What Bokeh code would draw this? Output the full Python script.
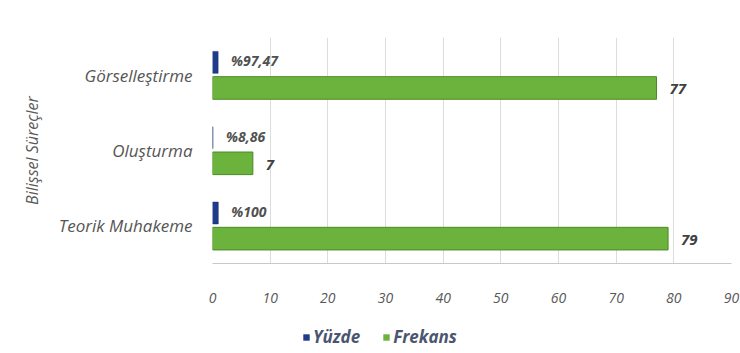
from bokeh.plotting import figure
from bokeh.models import ColumnDataSource, FactorRange, Range1d, Legend, LegendItem
from bokeh.layouts import column
from bokeh.transform import dodge
from bokeh.core.properties import value
from bokeh.embed import file_html
from bokeh.resources import INLINE

categories = ["Teorik Muhakeme", "Oluşturma", "Görselleştirme"]
yuzde = [1.0, 0.0886, 0.9747]
yuzde_labels = ["%100", "%8,86", "%97,47"]
frekans = [79, 7, 77]
frekans_labels = ["79", "7", "77"]
x_ticks = [0, 10, 20, 30, 40, 50, 60, 70, 80, 90]
series_names = ["Yüzde", "Frekans"]
series_colors = ["#1f3b8c", "#6cb33e"]
series_lines = ["#16296a", "#4a8a22"]

src = ColumnDataSource(dict(cat=categories, yuzde=yuzde, yl=yuzde_labels,
                            frekans=frekans, fl=frekans_labels))

FONT = "Open Sans"
p = figure(width=740, height=320, y_range=FactorRange(*categories),
           x_range=Range1d(0, 90), output_backend="svg", toolbar_location=None,
           min_border_left=212, min_border_right=9, min_border_top=37,
           min_border_bottom=57)
p.outline_line_color = None
p.background_fill_color = "white"

b1 = p.hbar(y=dodge("cat", 0.17, range=p.y_range), right="yuzde", left=0, height=0.29,
            source=src, fill_color=series_colors[0], line_color=series_lines[0], line_width=0.5)
b2 = p.hbar(y=dodge("cat", -0.17, range=p.y_range), right="frekans", left=0, height=0.30,
            source=src, fill_color=series_colors[1], line_color=series_lines[1], line_width=1)

p.text(x="yuzde", y=dodge("cat", 0.19, range=p.y_range), text="yl", source=src,
       x_offset=13, text_baseline="middle", text_align="left",
       text_font=value(FONT), text_font_style="bold italic", text_font_size="14px",
       text_color="#505050")
p.text(x="frekans", y=dodge("cat", -0.19, range=p.y_range), text="fl", source=src,
       x_offset=13, text_baseline="middle", text_align="left",
       text_font=value(FONT), text_font_style="bold italic", text_font_size="15px",
       text_color="#404040")

p.xaxis.ticker = x_ticks
p.xaxis.axis_line_color = "#c8c8c8"
p.xaxis.major_tick_line_color = None
p.xaxis.minor_tick_line_color = None
p.xaxis.major_label_standoff = 23
p.xaxis.major_label_text_font = FONT
p.xaxis.major_label_text_font_style = "italic"
p.xaxis.major_label_text_font_size = "14px"
p.xaxis.major_label_text_color = "#595959"

p.yaxis.axis_line_color = None
p.yaxis.major_tick_line_color = None
p.yaxis.minor_tick_line_color = None
p.yaxis.major_label_standoff = 14
p.yaxis.major_label_text_font = FONT
p.yaxis.major_label_text_font_style = "italic"
p.yaxis.major_label_text_font_size = "17px"
p.yaxis.major_label_text_color = "#555555"
p.yaxis.axis_label = "Bilişsel Süreçler"
p.yaxis.axis_label_text_font = FONT
p.yaxis.axis_label_text_font_style = "italic"
p.yaxis.axis_label_text_font_size = "16px"
p.yaxis.axis_label_text_color = "#595959"
p.yaxis.axis_label_standoff = 13

p.xgrid.grid_line_color = "#dcdcdc"
p.ygrid.grid_line_color = None

# legend strip below the chart (proxy bars of zero height, so only their legend swatches show)
lg = figure(width=740, height=33, x_range=Range1d(0, 90), y_range=FactorRange(*categories),
            output_backend="svg", toolbar_location=None,
            min_border_left=212, min_border_right=9, min_border_top=0, min_border_bottom=0)
lg.axis.visible = False
lg.grid.visible = False
lg.outline_line_color = None
r1 = lg.hbar(y="cat", right="yuzde", left=0, height=0, source=src,
             fill_color=series_colors[0], line_color=None)
r2 = lg.hbar(y="cat", right="frekans", left=0, height=0, source=src,
             fill_color=series_colors[1], line_color=None)
legend = Legend(items=[LegendItem(label=series_names[0], renderers=[r1]),
                       LegendItem(label=series_names[1], renderers=[r2])],
                orientation="horizontal", location=(90, 5),
                glyph_width=8, glyph_height=8, label_standoff=3, spacing=22,
                label_text_font=FONT, label_text_font_style="bold italic",
                label_text_font_size="17px", label_text_color="#4a5670",
                border_line_color=None, background_fill_alpha=0, padding=3)
lg.add_layout(legend, "center")

open("out.html", "w").write(file_html(column(p, lg, spacing=0), INLINE))
